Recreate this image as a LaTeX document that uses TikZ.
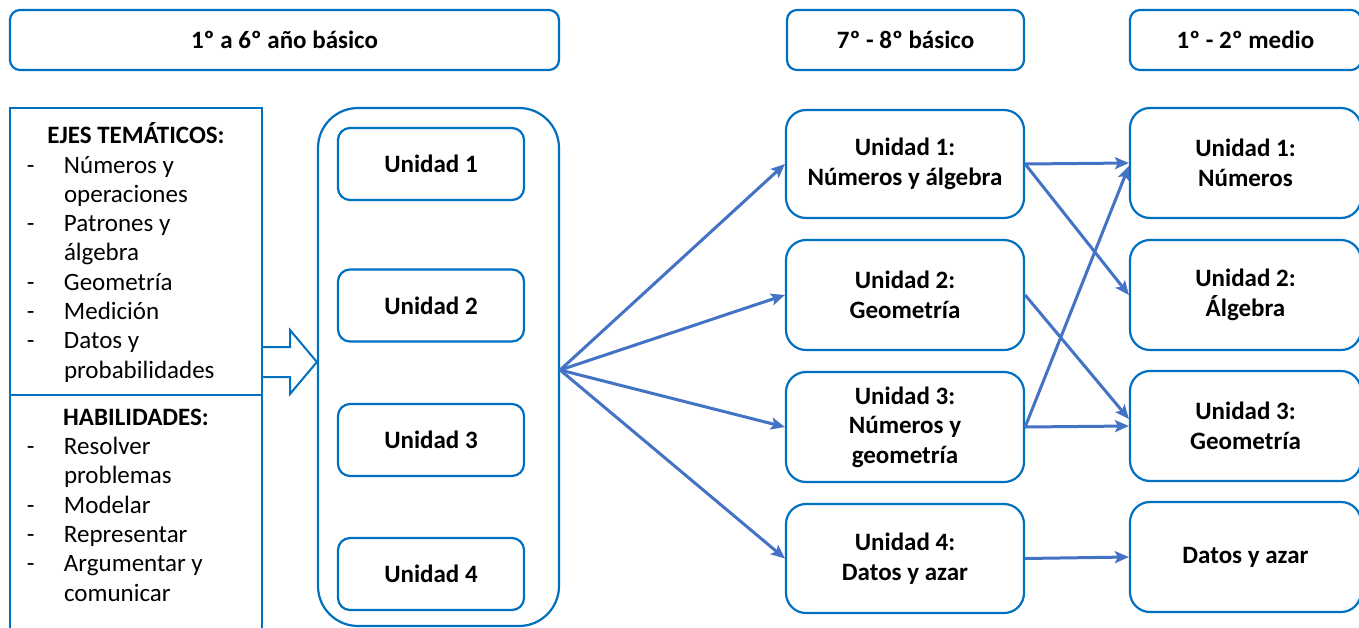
\documentclass[tikz,border=0pt]{standalone}
\usepackage{fontspec}
\setmainfont{Carlito}
\usetikzlibrary{arrows.meta,calc}
\definecolor{boxblue}{RGB}{0,112,192}
\definecolor{arrblue}{RGB}{68,114,196}
\begin{document}
\begin{tikzpicture}[x=1pt,y=-1pt,
  box/.style={draw=boxblue, line width=2.2pt, rounded corners=#1, inner sep=0pt,
    align=center, font=\fontsize{25}{29.5}\selectfont\bfseries, text=black},
  box/.default=12pt,
  plainbox/.style={draw=boxblue, line width=2.2pt, inner sep=0pt},
  listtext/.style={anchor=north, inner sep=0pt, font=\fontsize{25}{29.3}\selectfont, text=black},
  conn/.style={draw=arrblue, line width=3pt, -{Stealth[length=14pt,width=12pt,inset=3pt]}},
  blockarrow/.style={draw=boxblue, line width=2pt, fill=white, line join=miter}
]
\clip (0,0) rectangle (1359,627);
\fill[white] (0,0) rectangle (1359,627);

% headers
\node[box=10pt, minimum width=549pt, minimum height=60pt] (h1) at (284.5,40) {1º a 6º año básico};
\node[box=10pt, minimum width=237pt, minimum height=60pt] (h2) at (905.5,40) {7º - 8º básico};
\node[box=10pt, minimum width=231pt, minimum height=60pt] (h3) at (1245.5,40) {1º - 2º medio};

% left table
\node[plainbox, minimum width=252pt, minimum height=287pt] (ejesbox) at (136,251.5) {};
\node[plainbox, minimum width=252pt, minimum height=245pt] (habbox) at (136,517.5) {};
\node[listtext] (ejes) at (136,122.5) {\begin{tabular}{@{}p{37pt}@{}p{181pt}@{}}
\multicolumn{2}{@{}c@{}}{\bfseries EJES TEMÁTICOS:}\\
- & Números y\\
  & operaciones\\
- & Patrones y\\
  & álgebra\\
- & Geometría\\
- & Medición\\
- & Datos y\\
  & probabilidades
\end{tabular}};
\node[listtext] (habil) at (136,404.5) {\begin{tabular}{@{}p{37pt}@{}p{181pt}@{}}
\multicolumn{2}{@{}c@{}}{\bfseries HABILIDADES:}\\
- & Resolver\\
  & problemas\\
- & Modelar\\
- & Representar\\
- & Argumentar y\\
  & comunicar
\end{tabular}};

% container with units
\node[box=40pt, minimum width=241pt, minimum height=518pt] (cont) at (438.5,367) {};
\node[box=12pt, minimum width=186pt, minimum height=72pt] (u1) at (431,164) {Unidad 1};
\node[box=12pt, minimum width=186pt, minimum height=72pt] (u2) at (431,305.5) {Unidad 2};
\node[box=12pt, minimum width=186pt, minimum height=72pt] (u3) at (431,440) {Unidad 3};
\node[box=12pt, minimum width=186pt, minimum height=72pt] (u4) at (431,574) {Unidad 4};

% block arrow
\draw[blockarrow] (ejesbox.east |- 0,347) -- (290,347) -- (290,330) -- (cont.west |- 0,362)
  -- (290,394) -- (290,377) -- (ejesbox.east |- 0,377);

% middle column
\node[box=20pt, minimum width=238pt, minimum height=108pt] (m1) at (905,164) {Unidad 1:\\Números y álgebra};
\node[box=20pt, minimum width=238pt, minimum height=110pt] (m2) at (905,295) {Unidad 2:\\Geometría};
\node[box=20pt, minimum width=238pt, minimum height=110pt] (m3) at (905,427) {Unidad 3:\\Números y\\geometría};
\node[box=20pt, minimum width=238pt, minimum height=109pt] (m4) at (905,558.5) {Unidad 4:\\Datos y azar};

% right column
\node[box=20pt, minimum width=231pt, minimum height=110pt] (r1) at (1245.5,163) {Unidad 1:\\Números};
\node[box=20pt, minimum width=231pt, minimum height=110pt] (r2) at (1245.5,295) {Unidad 2:\\Álgebra};
\node[box=20pt, minimum width=231pt, minimum height=110pt] (r3) at (1245.5,426) {Unidad 3:\\Geometría};
\node[box=20pt, minimum width=231pt, minimum height=110pt] (r4) at (1245.5,557) {Datos y azar};

% fan arrows
\coordinate (fan) at ([yshift=-3pt]cont.east);
\draw[conn] (fan) -- (m1.west);
\draw[conn] (fan) -- (m2.west);
\draw[conn] (fan) -- (m3.west);
\draw[conn] (fan) -- (m4.west);

% right arrows
\draw[conn] (m1.east) -- (r1.west);
\draw[conn] (m1.east) -- (r2.west);
\draw[conn] (m2.east) -- ([yshift=7pt]r3.west);
\draw[conn] (m3.east) -- ([yshift=-3pt]r1.west);
\draw[conn] (m3.east) -- (r3.west);
\draw[conn] (m4.east) -- (r4.west);
\end{tikzpicture}
\end{document}
